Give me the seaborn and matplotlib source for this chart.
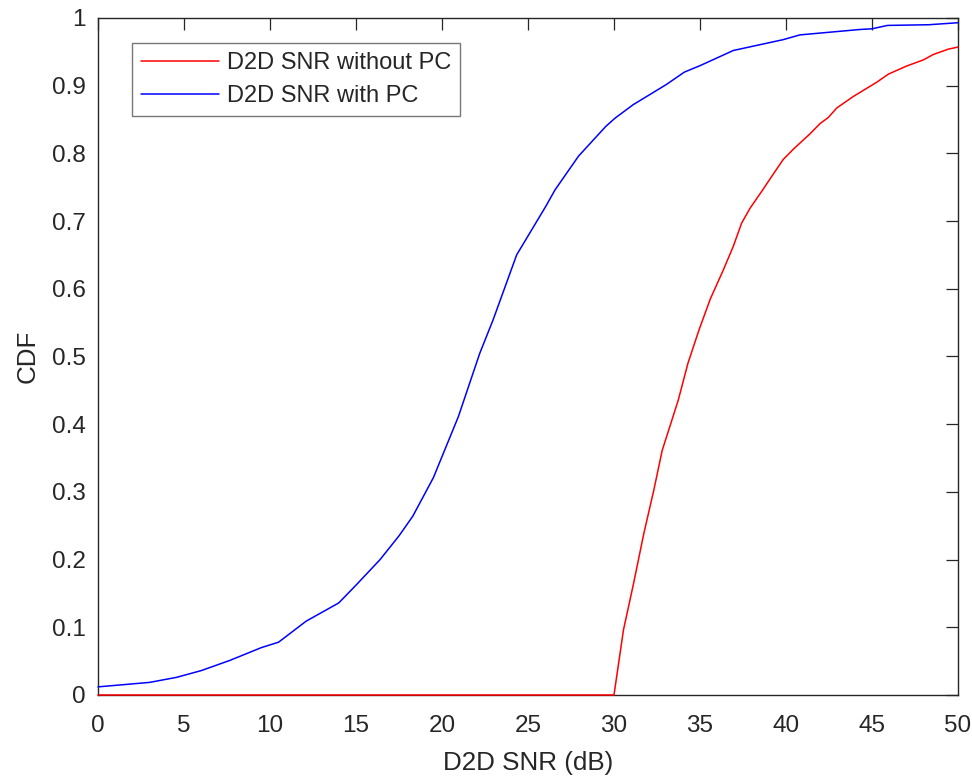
import numpy as np
import pandas as pd
import matplotlib
matplotlib.use("Agg")
import matplotlib.pyplot as plt
import seaborn as sns

# CDF samples of the D2D SNR (dB)
snr_no_pc = [0, 30.0, 30.55, 31.14, 31.73, 32.31, 32.8, 33.73, 34.3, 34.94, 35.6,
             36.36, 36.94, 37.42, 37.91, 38.59, 39.17, 39.84, 40.42, 41.40, 41.98,
             42.46, 42.95, 43.91, 45.27, 45.95, 47.01, 47.98, 48.56, 49.44, 50]
cdf_no_pc = [0, 0, 0.096, 0.165, 0.238, 0.302, 0.361, 0.435, 0.49, 0.539, 0.585,
             0.628, 0.663, 0.697, 0.719, 0.744, 0.766, 0.791, 0.806, 0.829, 0.844,
             0.853, 0.867, 0.884, 0.905, 0.917, 0.929, 0.938, 0.946, 0.954, 0.957]

snr_pc = [0, 3.0, 4.56, 6.0, 7.66, 9.5, 10.5, 12.1, 14.0, 15.03, 16.4, 17.5,
          18.3, 19.5, 20.95, 22.2, 22.97, 24.34, 26.04, 26.57, 27.94, 29.53,
          30.06, 31.12, 33.03, 34.09, 35.04, 36.94, 39.84, 40.81, 44.3, 45.0,
          45.9, 48.3, 50]
cdf_pc = [0.012, 0.0186, 0.026, 0.036, 0.051, 0.070, 0.078, 0.109, 0.136, 0.163,
          0.200, 0.235, 0.264, 0.321, 0.411, 0.505, 0.554, 0.650, 0.722, 0.746,
          0.796, 0.840, 0.852, 0.872, 0.9015, 0.920, 0.930, 0.952, 0.968, 0.975,
          0.983, 0.984, 0.989, 0.990, 0.993]

series_names = ["D2D SNR without PC", "D2D SNR with PC"]
series_colors = ["#ff0000", "#0000ff"]

df = pd.concat([
    pd.DataFrame({"snr": snr_no_pc, "cdf": cdf_no_pc, "series": series_names[0]}),
    pd.DataFrame({"snr": snr_pc, "cdf": cdf_pc, "series": series_names[1]}),
], ignore_index=True)

sns.set_theme(style="white")
plt.rcParams["font.family"] = ["Liberation Sans", "DejaVu Sans"]

axis_color = "#262626"

fig = plt.figure(figsize=(9.72, 7.78), dpi=100)
ax = fig.add_axes([0.1008, 0.1067, 0.8848, 0.8702])

sns.lineplot(data=df, x="snr", y="cdf", hue="series", hue_order=series_names,
             palette=dict(zip(series_names, series_colors)), estimator=None,
             sort=False, linewidth=1.1, ax=ax, legend=True)
for ln in ax.lines:
    ln.set_clip_on(False)
    ln.set_zorder(5)

ax.set_xlim(0, 50)
ax.set_ylim(0, 1)
ax.set_xticks(np.arange(0, 51, 5))
yt = np.round(np.arange(0, 1.01, 0.1), 1)
ax.set_yticks(yt)
ax.set_yticklabels(["0" if v == 0 else "1" if v == 1 else f"{v:g}" for v in yt])

ax.tick_params(axis="both", which="both", direction="in", length=8.5, width=0.9,
               colors=axis_color, labelsize=17.5, top=True, right=True)
ax.tick_params(axis="x", pad=14.5)
ax.tick_params(axis="y", pad=9)
for sp in ax.spines.values():
    sp.set_visible(True)
    sp.set_color(axis_color)
    sp.set_linewidth(1.0)

ax.set_xlabel("D2D SNR (dB)", fontsize=18.7, color=axis_color, labelpad=10)
ax.set_ylabel("CDF", fontsize=18.7, color=axis_color, labelpad=8.5)

leg = ax.legend(loc="upper left", bbox_to_anchor=(0.0395, 0.963), fontsize=17,
                frameon=True, fancybox=False, handlelength=3.3, handletextpad=0.34,
                borderpad=0.38, labelspacing=0.47, borderaxespad=0)
leg.get_frame().set_edgecolor("#555555")
leg.get_frame().set_linewidth(1.0)
for h in leg.get_lines():
    h.set_linewidth(1.1)

fig.savefig("out.png", dpi=100, facecolor="white")
